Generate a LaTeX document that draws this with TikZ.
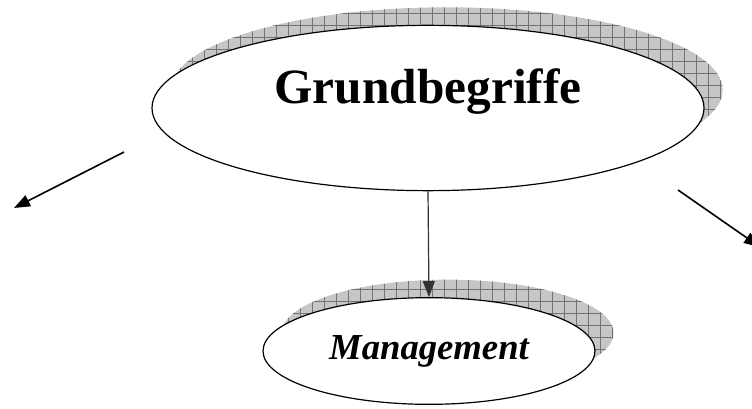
\documentclass[tikz,border=0pt]{standalone}
\usepackage{fontspec}
\setmainfont{Liberation Serif}
\usetikzlibrary{shapes.geometric,shadows,patterns.meta,arrows.meta}

\tikzset{
  hatchshadow/.style={general shadow={shadow xshift=14pt, shadow yshift=13.5pt,
      fill=gray!45, postaction={pattern={Hatch[distance=9pt, line width=0.4pt]}, pattern color=gray!90!black}}},
  topic/.style={ellipse, draw=black, line width=0.9pt, fill=white, inner sep=0pt, hatchshadow},
  pfeil/.style={line width=1.2pt, -{Triangle[length=12pt, width=9pt]}}
}

\begin{document}
\begin{tikzpicture}[x=0.75pt, y=-0.75pt]
          \useasboundingbox (0,0) rectangle (752,409);
          \node[topic, minimum width=414pt, minimum height=124pt,
                label={[font=\fontsize{37}{44}\selectfont\bfseries, yshift=12pt]center:Grundbegriffe}] (grund) at (428, 108) {};
          \node[topic, minimum width=249pt, minimum height=80pt,
                font=\fontsize{27.5}{33}\selectfont\bfseries\itshape] (mgmt) at (429, 351) {Management};
          \coordinate (linksA) at (124, 152);
          \coordinate (linksB) at (14, 208);
          \coordinate (rechtsA) at (678, 190);
          \coordinate (rechtsB) at (760, 247);
          \draw[pfeil] (linksA) -- (linksB);
          \draw[pfeil] (rechtsA) -- (rechtsB);
          \draw[pfeil, draw=black!80, fill=black!70, line width=0.9pt] (grund.south) -- (mgmt.north);
        \end{tikzpicture}
\end{document}
